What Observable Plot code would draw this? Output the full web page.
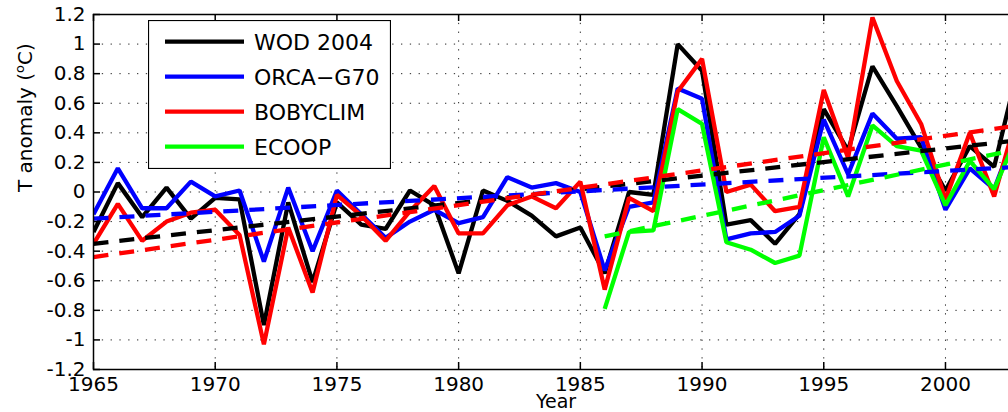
<!DOCTYPE html>
<html>
<head>
<meta charset="utf-8">
<script src="https://cdn.jsdelivr.net/npm/d3@7"></script>
<script src="https://cdn.jsdelivr.net/npm/@observablehq/plot@0.6"></script>
<style>
html, body { margin: 0; padding: 0; background: #fff; overflow: hidden; }
#wrap { position: relative; width: 1008px; height: 412px; overflow: hidden; }
#legend { position: absolute; left: 148px; top: 20px; }
</style>
</head>
<body>
<div id="wrap"><div id="chart"></div><svg id="legend" width="243" height="149"></svg></div>
<script>
// ---- data ----
const years = [1965, 1966, 1967, 1968, 1969, 1970, 1971, 1972, 1973, 1974,
               1975, 1976, 1977, 1978, 1979, 1980, 1981, 1982, 1983, 1984,
               1985, 1986, 1987, 1988, 1989, 1990, 1991, 1992, 1993, 1994,
               1995, 1996, 1997, 1998, 1999, 2000, 2001, 2002, 2003];

const seriesNames = ["WOD 2004", "ORCA−G70", "BOBYCLIM", "ECOOP"];
const seriesColors = ["#000000", "#0000ff", "#ff0000", "#00ff00"];

const wod = [-0.27, 0.06, -0.17, 0.03, -0.18, -0.04, -0.05, -0.90, -0.07, -0.61,
             -0.07, -0.22, -0.25, 0.01, -0.09, -0.55, 0.01, -0.06, -0.16, -0.30,
             -0.24, -0.55, 0.00, -0.02, 1.00, 0.82, -0.22, -0.19, -0.35, -0.15,
             0.56, 0.28, 0.85, 0.58, 0.30, 0.01, 0.31, 0.17, 0.85];

const orca = [-0.15, 0.16, -0.11, -0.11, 0.07, -0.03, 0.01, -0.47, 0.03, -0.40,
              0.01, -0.15, -0.31, -0.20, -0.12, -0.21, -0.17, 0.10, 0.03, 0.06,
              0.00, -0.53, -0.10, -0.07, 0.70, 0.63, -0.32, -0.28, -0.27, -0.16,
              0.49, 0.12, 0.53, 0.36, 0.37, -0.12, 0.16, 0.02, 0.45];

const bobyclim = [-0.35, -0.08, -0.33, -0.20, -0.14, -0.12, -0.29, -1.03, -0.24, -0.68,
                  -0.02, -0.16, -0.33, -0.13, 0.04, -0.28, -0.28, -0.09, -0.03, -0.11,
                  0.07, -0.66, -0.04, -0.13, 0.68, 0.90, 0.00, 0.05, -0.13, -0.10,
                  0.69, 0.23, 1.18, 0.75, 0.46, -0.05, 0.40, -0.03, 0.55];

const ecoop = [null, null, null, null, null, null, null, null, null, null,
               null, null, null, null, null, null, null, null, null, null,
               null, -0.79, -0.27, -0.26, 0.56, 0.46, -0.34, -0.39, -0.48, -0.43,
               0.37, -0.03, 0.45, 0.31, 0.28, -0.09, 0.21, 0.02, 0.40];

// linear trends: [startYear, startValue, endYear, endValue]
const trendWod      = [1965, -0.35, 2003, 0.35];
const trendOrca     = [1965, -0.18, 2003, 0.17];
const trendBobyclim = [1965, -0.44, 2003, 0.45];
const trendEcoop    = [1986, -0.30, 2003, 0.29];

const xTicks = [1965, 1970, 1975, 1980, 1985, 1990, 1995, 2000];
const yTicks = [-1.2, -1, -0.8, -0.6, -0.4, -0.2, 0, 0.2, 0.4, 0.6, 0.8, 1, 1.2];

// ---- build tables ----
const allValues = [wod, orca, bobyclim, ecoop];
const allTrends = [trendWod, trendOrca, trendBobyclim, trendEcoop];
const solid = allValues.map(vals => years.map((yr, i) => ({year: yr, value: vals[i]})).filter(d => d.value != null));
const trends = allTrends.map(t => [{year: t[0], value: t[1]}, {year: t[2], value: t[3]}]);

const W = 1008, H = 412;
const mL = 93, mR = -10, mT = 14, mB = 43;
const frameW = W - mL - mR, frameH = H - mT - mB;
const tickLen = 7;

const marks = [];
marks.push(Plot.gridX(xTicks, {stroke: "#000", strokeOpacity: 0.85, strokeWidth: 1, strokeDasharray: "1.3,7.5"}));
marks.push(Plot.gridY(yTicks, {stroke: "#000", strokeOpacity: 0.85, strokeWidth: 1, strokeDasharray: "1.3,7.5"}));
solid.forEach((data, s) => {
  marks.push(Plot.line(data, {x: "year", y: "value", stroke: seriesColors[s], strokeWidth: 4.3,
    strokeLinejoin: "miter", strokeLinecap: "butt", clip: true}));
});
trends.forEach((data, s) => {
  marks.push(Plot.line(data, {x: "year", y: "value", stroke: seriesColors[s], strokeWidth: 4.3,
    strokeDasharray: "15,11", strokeLinecap: "butt", clip: true}));
});
marks.push(Plot.frame({stroke: "#000", strokeWidth: 1.5}));
marks.push(Plot.tickX(xTicks, {x: d => d, insetTop: frameH - tickLen, stroke: "#000", strokeWidth: 1.5}));
marks.push(Plot.tickX(xTicks, {x: d => d, insetBottom: frameH - tickLen, stroke: "#000", strokeWidth: 1.5}));
marks.push(Plot.tickY(yTicks, {y: d => d, insetRight: frameW - tickLen, stroke: "#000", strokeWidth: 1.5}));
marks.push(Plot.axisX({ticks: xTicks, tickSize: 0, tickPadding: 7, fontSize: 20, label: null, tickFormat: d => String(d)}));
marks.push(Plot.axisY({ticks: yTicks, tickSize: 0, tickPadding: 8, fontSize: 20, label: null,
  tickFormat: d => String(+d.toFixed(1))}));
marks.push(Plot.text(["Year"], {frameAnchor: "bottom", dy: 38, fontSize: 19, fill: "#000"}));
marks.push(Plot.text(["T anomaly (°C)"], {frameAnchor: "left", dx: -68, rotate: -90, fontSize: 20, fill: "#000"}));

const chart = Plot.plot({
  width: W, height: H,
  marginLeft: mL, marginRight: mR, marginTop: mT, marginBottom: mB,
  x: {domain: [1965, 2003]},
  y: {domain: [-1.2, 1.2]},
  style: {fontFamily: "DejaVu Sans", fontSize: "20px", color: "#000", background: "#fff", overflow: "hidden"},
  marks
});
document.getElementById("chart").appendChild(chart);

// superscript "o" in the y label
d3.select(chart).selectAll("text").each(function() {
  if (this.textContent === "T anomaly (°C)") {
    const t = d3.select(this);
    t.text(null);
    t.append("tspan").text("T anomaly (");
    t.append("tspan").attr("font-size", 13).attr("dy", -8).text("o");
    t.append("tspan").attr("dy", 8).text("C)");
  }
});

// ---- legend ----
const lg = d3.select("#legend");
lg.append("rect").attr("x", 0.5).attr("y", 0.5).attr("width", 242).attr("height", 148)
  .attr("fill", "#fff").attr("stroke", "#000").attr("stroke-width", 1.2);
seriesNames.forEach((name, i) => {
  const cy = 21.7 + i * 35;
  lg.append("line").attr("x1", 17).attr("x2", 96).attr("y1", cy).attr("y2", cy)
    .attr("stroke", seriesColors[i]).attr("stroke-width", 4.3);
  lg.append("text").attr("x", 106).attr("y", cy).attr("dy", "0.36em")
    .attr("font-family", "DejaVu Sans").attr("font-size", 22).attr("fill", "#000")
    .text(name);
});
</script>
</body>
</html>
